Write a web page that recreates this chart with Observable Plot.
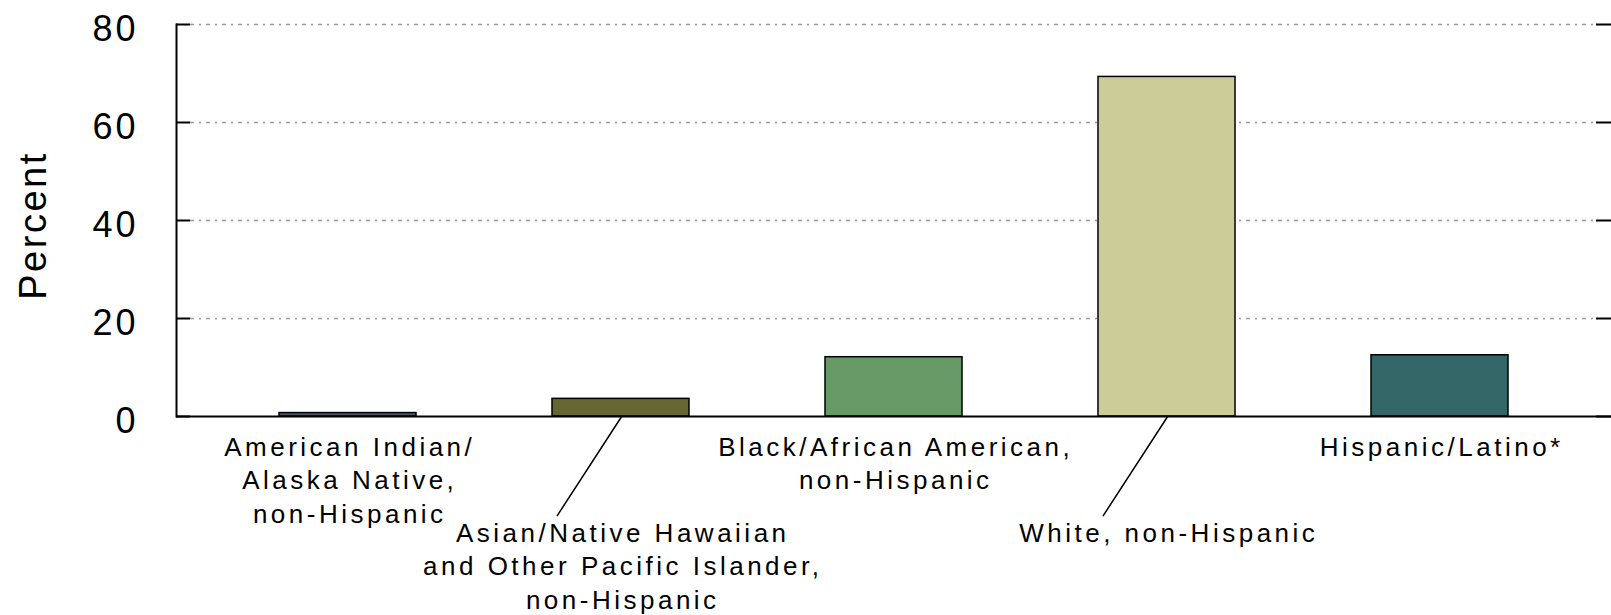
<!DOCTYPE html>
<html>
<head>
<meta charset="utf-8">
<script src="https://cdn.jsdelivr.net/npm/d3@7"></script>
<script src="https://cdn.jsdelivr.net/npm/@observablehq/plot@0.6"></script>
<style>
html, body { margin: 0; padding: 0; background: #fff; overflow: hidden; }
#chart svg { display: block; }
#chart g[font-size="36"] text { letter-spacing: 3px; }
#chart g[font-size="26"] text { letter-spacing: 3.5px; }
#chart g[font-size="38"] text { letter-spacing: 2.5px; }
</style>
</head>
<body>
<div id="chart"></div>
<script>
const categories = [
  "American Indian/Alaska Native, non-Hispanic",
  "Asian/Native Hawaiian and Other Pacific Islander, non-Hispanic",
  "Black/African American, non-Hispanic",
  "White, non-Hispanic",
  "Hispanic/Latino*"
];
const categoryLabels = [
  "American Indian/\nAlaska Native,\nnon-Hispanic",
  "Asian/Native Hawaiian\nand Other Pacific Islander,\nnon-Hispanic",
  "Black/African American,\nnon-Hispanic",
  "White, non-Hispanic",
  "Hispanic/Latino*"
];
const percentValues = [0.7, 3.6, 12.1, 69.3, 12.5];
const barColors = ["#4c5670", "#666633", "#669966", "#cccc99", "#336666"];
const labelRows = [0, 1, 0, 1, 0];
const yTickValues = [0, 20, 40, 60, 80];
const yAxisLabel = "Percent";

const data = categories.map((c, i) => ({
  category: c, label: categoryLabels[i], value: percentValues[i], row: labelRows[i]
}));

const leaderShape = { draw(context, l) { context.moveTo(0, 0); context.lineTo(0, -l); } };

const chart = Plot.plot({
  width: 1611,
  height: 615,
  marginTop: 24,
  marginBottom: 199,
  marginLeft: 176,
  marginRight: 0,
  style: { fontFamily: "'Liberation Sans', Arial, sans-serif", fontSize: "26px", color: "#000", background: "#fff", overflow: "visible" },
  x: { domain: categories, paddingInner: 0.5, paddingOuter: 0.375, axis: null },
  y: { domain: [0, 80], axis: null, label: null },
  color: { domain: categories, range: barColors },
  marks: [
    Plot.gridY(yTickValues.filter(d => d > 0), { stroke: "#999", strokeOpacity: 1, strokeWidth: 1.5, strokeDasharray: "4,5,2,5", insetLeft: 14, insetRight: 16 }),
    Plot.barY(data, { x: "category", y: "value", fill: "category", stroke: "#000", strokeWidth: 1.5 }),
    Plot.ruleY([0], { stroke: "#000", strokeWidth: 2 }),
    Plot.frame({ anchor: "left", stroke: "#000", strokeWidth: 2 }),
    Plot.axisY(yTickValues, { anchor: "left", tickSize: 14, insetLeft: 14, strokeWidth: 2, tickFormat: () => "", label: null }),
    Plot.axisY(yTickValues, { anchor: "right", tickSize: 16, insetRight: 16, strokeWidth: 2, tickFormat: () => "", label: null }),
    Plot.axisY(yTickValues, { anchor: "left", tickSize: 0, tickPadding: 38, fontSize: 36, dy: 5, label: null }),
    Plot.text([yAxisLabel], { frameAnchor: "left", textAnchor: "middle", rotate: -90, dx: -143, dy: 5, fontSize: 38 }),
    Plot.vector(data.filter(d => d.row === 1), { x: "category", frameAnchor: "bottom", anchor: "start", rotate: 213, length: 117, shape: leaderShape, stroke: "#000", strokeWidth: 1.5, dx: 0, dy: 1 }),
    Plot.text(data.filter(d => d.row === 0), { x: "category", frameAnchor: "bottom", text: "label", lineAnchor: "top", lineHeight: 1.28, dy: 16, dx: 1.75, fontSize: 26 }),
    Plot.text(data.filter(d => d.row === 1), { x: "category", frameAnchor: "bottom", text: "label", lineAnchor: "top", lineHeight: 1.28, dy: 102, dx: 1.75, fontSize: 26 })
  ]
});
document.getElementById("chart").appendChild(chart);
</script>
</body>
</html>
